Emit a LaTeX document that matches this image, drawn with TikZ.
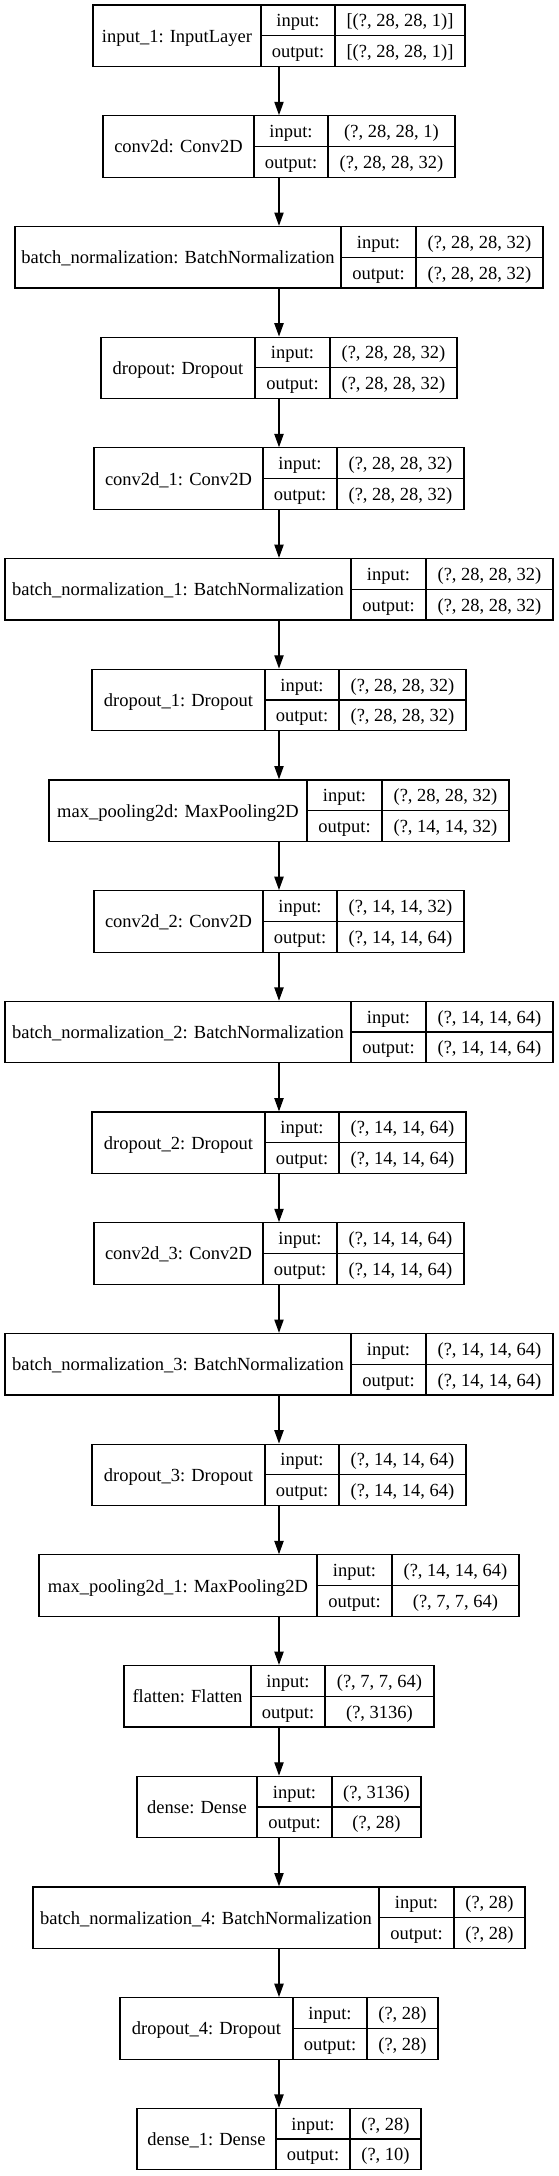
\documentclass[tikz,border=0pt]{standalone}
\usepackage{fontspec}
\setmainfont{Liberation Serif}
\usetikzlibrary{arrows.meta}

\tikzset{
  layerbox/.style={draw, line width=1.2pt, inner sep=0pt, minimum height=61.5pt},
  celltext/.style={anchor=base, inner sep=0pt, font=\fontsize{18.5}{20}\selectfont},
  flow/.style={-{Triangle[length=13.3pt,width=9.3pt]}, line width=1.2pt},
}

\begin{document}
\begin{tikzpicture}[x=1pt,y=1pt]
\useasboundingbox (0,0) rectangle (559,-2176);

%% layers
\foreach \id/\lbl/\xa/\xb/\xc/\inp/\outp [count=\i from 0] in {
  input1/{input\_1: InputLayer}/93/261/335/{[(?, 28, 28, 1)]}/{[(?, 28, 28, 1)]},
  conv2d/{conv2d: Conv2D}/103/254/328/{(?, 28, 28, 1)}/{(?, 28, 28, 32)},
  batchnorm/{batch\_normalization: BatchNormalization}/15/341/416/{(?, 28, 28, 32)}/{(?, 28, 28, 32)},
  dropout/{dropout: Dropout}/101/255/330/{(?, 28, 28, 32)}/{(?, 28, 28, 32)},
  conv2dA/{conv2d\_1: Conv2D}/94/263/337/{(?, 28, 28, 32)}/{(?, 28, 28, 32)},
  batchnormA/{batch\_normalization\_1: BatchNormalization}/5/351/426/{(?, 28, 28, 32)}/{(?, 28, 28, 32)},
  dropoutA/{dropout\_1: Dropout}/92/265/339/{(?, 28, 28, 32)}/{(?, 28, 28, 32)},
  maxpool/{max\_pooling2d: MaxPooling2D}/49/307/382/{(?, 28, 28, 32)}/{(?, 14, 14, 32)},
  conv2dB/{conv2d\_2: Conv2D}/94/263/337/{(?, 14, 14, 32)}/{(?, 14, 14, 64)},
  batchnormB/{batch\_normalization\_2: BatchNormalization}/5/351/426/{(?, 14, 14, 64)}/{(?, 14, 14, 64)},
  dropoutB/{dropout\_2: Dropout}/92/265/339/{(?, 14, 14, 64)}/{(?, 14, 14, 64)},
  conv2dC/{conv2d\_3: Conv2D}/94/263/337/{(?, 14, 14, 64)}/{(?, 14, 14, 64)},
  batchnormC/{batch\_normalization\_3: BatchNormalization}/5/351/426/{(?, 14, 14, 64)}/{(?, 14, 14, 64)},
  dropoutC/{dropout\_3: Dropout}/92/265/339/{(?, 14, 14, 64)}/{(?, 14, 14, 64)},
  maxpoolA/{max\_pooling2d\_1: MaxPooling2D}/39/317/392/{(?, 14, 14, 64)}/{(?, 7, 7, 64)},
  flatten/{flatten: Flatten}/124/251/325/{(?, 7, 7, 64)}/{(?, 3136)},
  dense/{dense: Dense}/137/257/332/{(?, 3136)}/{(?, 28)},
  batchnormD/{batch\_normalization\_4: BatchNormalization}/33/379/454/{(?, 28)}/{(?, 28)},
  dropoutD/{dropout\_4: Dropout}/120/293/367/{(?, 28)}/{(?, 28)},
  denseA/{dense\_1: Dense}/137/276/350/{(?, 28)}/{(?, 10)}%
}{
  \pgfmathsetmacro{\yc}{-35.75-110.7*\i}
  \pgfmathsetmacro{\xd}{558-\xa}
  \node[layerbox, minimum width={(\xd-\xa)*1pt}] (\id) at (279,\yc) {};
  \draw[line width=1.2pt] (\xb,\yc+30.75) -- (\xb,\yc-30.75)
        (\xc,\yc+30.75) -- (\xc,\yc-30.75)
        (\xb,\yc) -- (\xd,\yc);
  \node[celltext] (\id-name) at ({(\xa+\xb)/2},\yc-6.5) {\lbl};
  \node[celltext] (\id-inkey) at ({(\xb+\xc)/2},\yc+15.375-6.5) {input:};
  \node[celltext] (\id-outkey) at ({(\xb+\xc)/2},\yc-15.375-6.5) {output:};
  \node[celltext] (\id-in) at ({(\xc+\xd)/2},\yc+15.375-6.5) {\inp};
  \node[celltext] (\id-out) at ({(\xc+\xd)/2},\yc-15.375-6.5) {\outp};
}

%%% arrows
\foreach \a/\b in {input1/conv2d, conv2d/batchnorm, batchnorm/dropout,
  dropout/conv2dA, conv2dA/batchnormA, batchnormA/dropoutA, dropoutA/maxpool,
  maxpool/conv2dB, conv2dB/batchnormB, batchnormB/dropoutB, dropoutB/conv2dC,
  conv2dC/batchnormC, batchnormC/dropoutC, dropoutC/maxpoolA, maxpoolA/flatten,
  flatten/dense, dense/batchnormD, batchnormD/dropoutD, dropoutD/denseA}
  \draw[flow] (\a.south) -- (\b.north);

\end{tikzpicture}
\end{document}
